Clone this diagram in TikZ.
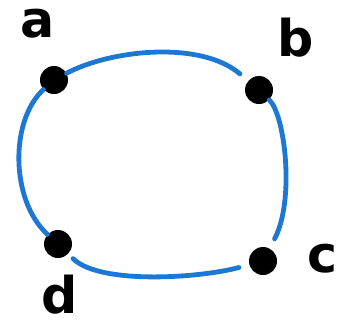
\documentclass[tikz,border=0pt]{standalone}
\usepackage{fontspec}
\setmainfont{DejaVu Sans}
\begin{document}
\begin{tikzpicture}[x=0.75pt,y=-0.75pt,
  dot/.style={circle,fill=black,inner sep=0pt,minimum size=21pt},
  lbl/.style={font=\fontsize{38}{38}\selectfont\bfseries,inner sep=0pt},
  edge/.style={draw=penblue,line width=3.6pt,line cap=round}]
\definecolor{penblue}{RGB}{28,120,212}
\useasboundingbox (0,0) rectangle (352,332);
\node[dot] (a) at (54,80) {};
\node[dot] (b) at (259,90) {};
\node[dot] (c) at (263,261) {};
\node[dot] (d) at (58,244) {};
\node[lbl] (la) at (38,24) {a};
\node[lbl] (lb) at (296,38) {b};
\node[lbl] (lc) at (323,259) {c};
\node[lbl] (ld) at (60,295) {d};
\path[edge,shorten >=8pt] (a) .. controls (110,50) and (200,40) .. (b);
\path[edge,shorten >=8pt] (b) .. controls (285,115) and (295,200) .. (c);
\path[edge,shorten <=8pt,shorten >=5pt] (c) .. controls (200,278) and (100,285) .. (d);
\path[edge] (d) .. controls (10,200) and (10,120) .. (a);
\end{tikzpicture}
\end{document}
